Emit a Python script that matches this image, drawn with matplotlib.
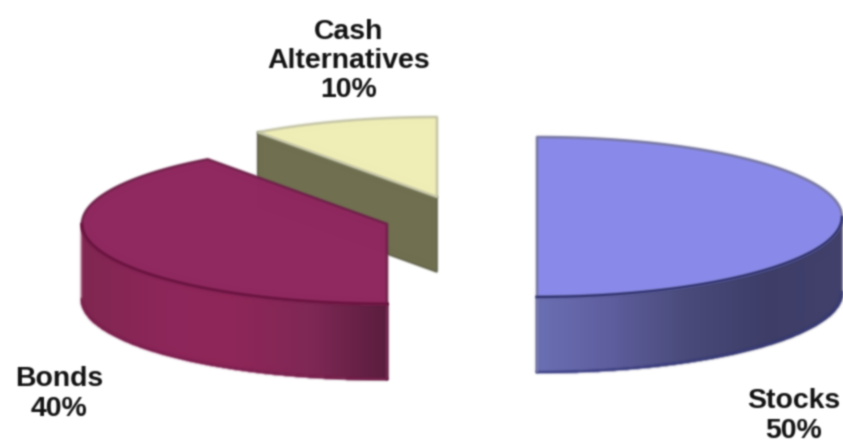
import numpy as np
import matplotlib
matplotlib.use("Agg")
import matplotlib.pyplot as plt
from matplotlib.collections import PolyCollection
from matplotlib.colors import LinearSegmentedColormap

labels = ["Stocks\n50%", "Bonds\n40%", "Cash\nAlternatives\n10%"]
values = [50, 40, 10]

# layout (pixels)
centers = [(537, 217), (387, 224), (437, 197)]
label_pos = [(794, 416), (59, 394), (349, 61)]
RX, RY, DEPTH = 305, 80, 75

top_colors = ["#8a8aea", "#90285f", "#efeeb6"]
edge_colors = ["#74749f", "#6f2049", "#c4c4a6"]
rim_colors = ["#262a70", "#6e1040", "#55553a"]
side_stops = [
    ["#6a6fb4", "#5d5c9c", "#474878", "#3c3c68", "#3f3f6a"],
    ["#5a1c3c", "#7e2654", "#8e2458", "#8c2459", "#80244f"],
]
wall_color = "#6f6f50"


def make_soften(sigma, pad=5):
    """Slight blur (on premultiplied colour), as the reference is a low-resolution image."""
    r = np.arange(-pad, pad + 1)
    k = np.exp(-r ** 2 / (2 * sigma ** 2))
    k /= k.sum()

    def soften(img, dpi):
        h, w, d = img.shape
        out = np.zeros((h + 2 * pad, w + 2 * pad, d))
        out[pad:pad + h, pad:pad + w] = img
        alpha0 = out[:, :, 3].copy()
        for ch in range(3):
            out[:, :, ch] *= alpha0
        for ch in range(4):
            out[:, :, ch] = np.apply_along_axis(np.convolve, 0, out[:, :, ch], k, "same")
            out[:, :, ch] = np.apply_along_axis(np.convolve, 1, out[:, :, ch], k, "same")
        a = np.maximum(out[:, :, 3], 1e-4)
        for ch in range(3):
            out[:, :, ch] = np.clip(out[:, :, ch] / a, 0, 1)
        return out, -pad, -pad

    return soften


shape_blur = make_soften(1.0)
text_blur = make_soften(0.8)

fig = plt.figure(figsize=(8.43, 4.47), dpi=100)
ax = fig.add_axes([0, 0, 1, 1])
ax.set_xlim(0, 843)
ax.set_ylim(447, 0)
ax.axis("off")


def rim(c, a0, a1, n=120):
    """Ellipse arc; angle measured clockwise from 12 o'clock."""
    t = np.radians(np.linspace(a0, a1, n))
    return c[0] + RX * np.sin(t), c[1] - RY * np.cos(t)


fractions = np.array(values) / sum(values)
edges = np.concatenate([[0], np.cumsum(fractions) * 360])

# draw back to front: cash, bonds, stocks
for z, i in enumerate([2, 1, 0]):
    c, a0, a1 = centers[i], edges[i], edges[i + 1]
    x, y = rim(c, a0, a1)
    artists = []

    if i == 2:
        # visible cut face of the cash slice
        artists += ax.fill([x[0], c[0], c[0], x[0]],
                           [y[0], c[1], c[1] + DEPTH, y[0] + DEPTH],
                           color=wall_color, ec="#5c5c44", lw=1.2, zorder=z)
    else:
        # outer side: visible part is the front half of the rim
        t0, t1 = max(a0, 90), min(a1, 270)
        xs, ys = rim(c, t0, t1, 240)
        cmap = LinearSegmentedColormap.from_list("side", side_stops[i])
        quads = [[(xs[k], ys[k]), (xs[k + 1], ys[k + 1]),
                  (xs[k + 1], ys[k + 1] + DEPTH), (xs[k], ys[k] + DEPTH)]
                 for k in range(len(xs) - 1)]
        u = np.abs(xs[:-1] - c[0]) / RX
        pc = PolyCollection(quads, facecolors=cmap(u), edgecolors=cmap(u),
                            linewidths=1.0, antialiaseds=False, zorder=z)
        ax.add_collection(pc)
        artists.append(pc)
        artists += ax.plot(xs, ys + DEPTH, color=rim_colors[i], lw=1.6, alpha=0.8, zorder=z + 0.2)
        artists += ax.plot([c[0], c[0]], [c[1] + RY, c[1] + RY + DEPTH],
                           color=edge_colors[i], lw=1.6, zorder=z + 0.2)

    px = np.concatenate([[c[0]], x])
    py = np.concatenate([[c[1]], y])
    artists += ax.fill(px, py, facecolor=top_colors[i], edgecolor=edge_colors[i], lw=1.8,
                       joinstyle="round", zorder=z + 0.3)
    if i != 2:
        xs, ys = rim(c, max(a0, 90), min(a1, 270))
        artists += ax.plot(xs, ys, color=rim_colors[i], lw=1.6, zorder=z + 0.4)
    for a in artists:
        a.set_agg_filter(shape_blur)

for lab, (lx, ly) in zip(labels, label_pos):
    t = ax.text(lx, ly, lab, ha="center", va="center", fontsize=20.4, fontweight="bold",
                family="Liberation Sans", color="#111111", linespacing=1.15, zorder=10)
    t.set_agg_filter(text_blur)

fig.savefig("out.png", dpi=100)
